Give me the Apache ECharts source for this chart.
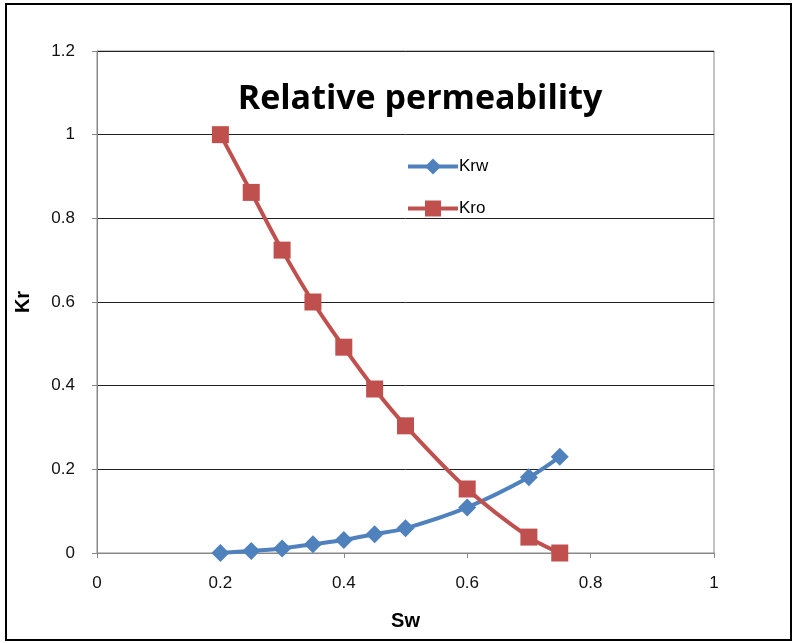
<!DOCTYPE html>
<html>
<head>
<meta charset="utf-8">
<script src="https://cdn.jsdelivr.net/npm/echarts@6/dist/echarts.min.js"></script>
<style>
  html, body { margin: 0; padding: 0; background: #fff; }
  #frame { position: absolute; left: 5px; top: 3px; width: 783px; height: 634px; border: 2px solid #000; box-sizing: content-box; }
  #chart { position: absolute; left: 0; top: 0; width: 796px; height: 643px; }
</style>
</head>
<body>
<div id="frame"></div>
<div id="chart"></div>
<script>
// Water saturation and relative permeabilities
const sw  = [0.2, 0.25, 0.3, 0.35, 0.4, 0.45, 0.5, 0.6, 0.7, 0.75];
const krw = [0, 0.005, 0.011, 0.021, 0.031, 0.045, 0.059, 0.109, 0.181, 0.23];
const kro = [1, 0.862, 0.724, 0.6, 0.492, 0.392, 0.304, 0.153, 0.038, 0];

const font = '"Liberation Sans", Arial, sans-serif';
const chart = echarts.init(document.getElementById('chart'));
chart.setOption({
  animation: false,
  title: {
    text: 'Relative permeability',
    left: 415, top: 77, textAlign: 'center',
    textStyle: { fontFamily: '"Open Sans", sans-serif', fontSize: 34, fontWeight: 'bold', color: '#000' }
  },
  legend: {
    orient: 'vertical', left: 401, top: 153, itemGap: 25,
    itemWidth: 50, itemHeight: 20,
    lineStyle: { width: 4 },
    textStyle: { fontFamily: font, fontSize: 17, color: '#000', padding: [0, 0, 0, -4] },
    data: ['Krw', 'Kro']
  },
  grid: { left: 97, top: 51, width: 617, height: 502, show: true, borderColor: '#888', borderWidth: 1 },
  xAxis: {
    type: 'value', min: 0, max: 1, interval: 0.2,
    name: 'Sw', nameLocation: 'middle', nameGap: 58,
    nameTextStyle: { fontFamily: font, fontSize: 20, fontWeight: 'bold', color: '#000' },
    axisLine: { lineStyle: { color: '#888' } },
    axisTick: { show: true, inside: false, length: 5, lineStyle: { color: '#888' } },
    axisLabel: { fontFamily: font, fontSize: 17, color: '#111', margin: 22 },
    splitLine: { show: false }
  },
  yAxis: {
    type: 'value', min: 0, max: 1.2, interval: 0.2,
    name: 'Kr', nameLocation: 'middle', nameGap: 64, nameRotate: 90,
    nameTextStyle: { fontFamily: font, fontSize: 20, fontWeight: 'bold', color: '#000' },
    axisLine: { show: true, lineStyle: { color: '#888' } },
    axisTick: { show: true, length: 5, lineStyle: { color: '#888' } },
    axisLabel: { fontFamily: font, fontSize: 17, color: '#111', margin: 22 },
    splitLine: { show: true, lineStyle: { color: '#222', width: 1 } }
  },
  series: [
    {
      name: 'Krw', type: 'line', smooth: 0.3,
      data: sw.map((x, i) => [x, krw[i]]),
      symbol: 'diamond', symbolSize: 18,
      lineStyle: { color: '#4F81BD', width: 4 },
      itemStyle: { color: '#4F81BD' }
    },
    {
      name: 'Kro', type: 'line', smooth: 0.3,
      data: sw.map((x, i) => [x, kro[i]]),
      symbol: 'rect', symbolSize: 17,
      lineStyle: { color: '#C0504D', width: 4 },
      itemStyle: { color: '#C0504D' }
    }
  ]
});
</script>
</body>
</html>
